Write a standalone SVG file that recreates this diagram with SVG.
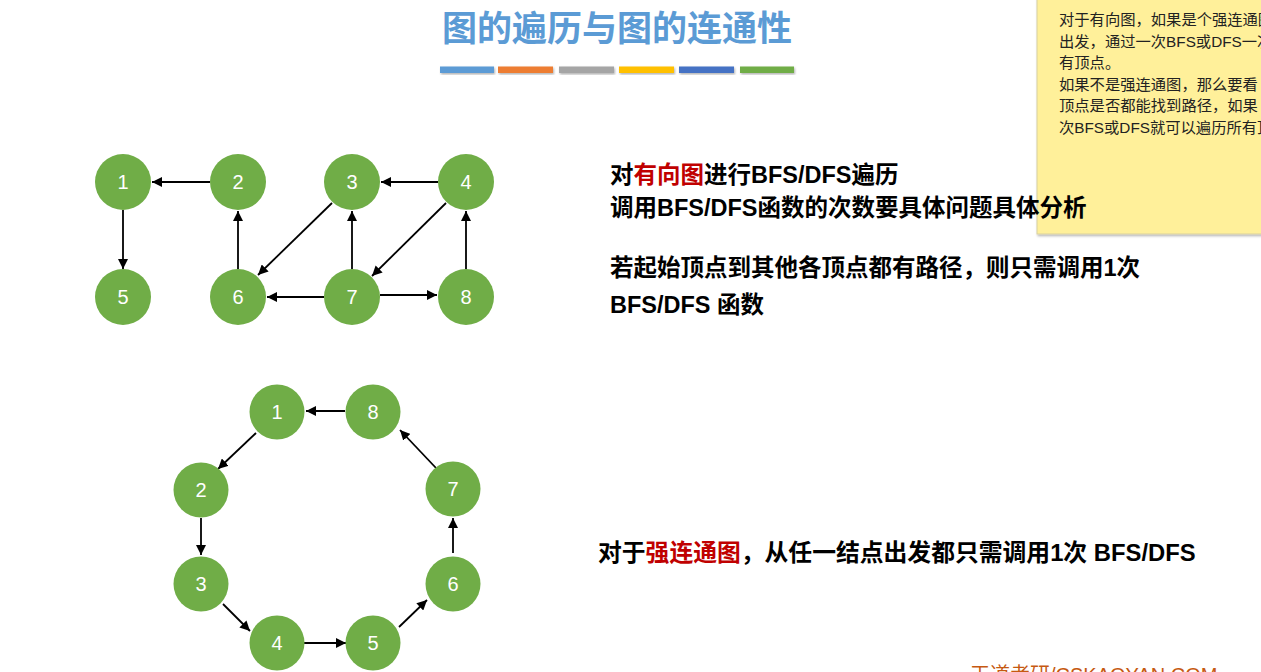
<svg xmlns="http://www.w3.org/2000/svg" width="1261" height="672" viewBox="0 0 1261 672">
<defs>
<marker id="ah" viewBox="0 0 10 10" refX="10" refY="5" markerWidth="10" markerHeight="10" markerUnits="userSpaceOnUse" orient="auto">
<path d="M0,0 L10,5 L0,10 z" fill="#000"/>
</marker>
<filter id="sh" x="-10%" y="-10%" width="130%" height="130%">
<feDropShadow dx="1" dy="1.5" stdDeviation="1" flood-color="#000" flood-opacity="0.3"/>
</filter>
</defs>
<style>
.n circle{fill:#70ad47;}
.n text{fill:#fff;font-family:"Liberation Sans",Arial,sans-serif;font-size:20px;text-anchor:middle;}
.e line{stroke:#000;stroke-width:1.8;marker-end:url(#ah);}
.t{font-family:"Liberation Sans","Noto Sans CJK SC",sans-serif;font-weight:bold;font-size:23.5px;fill:#000;}
.r{fill:#c00000;}
.note{font-family:"Liberation Sans","Noto Sans CJK SC",sans-serif;font-size:15.3px;fill:#222;}
</style>
<rect width="1261" height="672" fill="#fff"/>

<g id="title">
<text x="617" y="41" text-anchor="middle" font-family="'Liberation Sans','Noto Sans CJK SC',sans-serif" font-weight="bold" font-size="35" fill="#5b9bd5">图的遍历与图的连通性</text>
<g filter="url(#sh)">
<rect x="440" y="66.5" width="54" height="6.5" fill="#5b9bd5"/>
<rect x="498" y="66.5" width="55" height="6.5" fill="#ed7d31"/>
<rect x="559" y="66.5" width="55" height="6.5" fill="#a5a5a5"/>
<rect x="619" y="66.5" width="55" height="6.5" fill="#ffc000"/>
<rect x="679" y="66.5" width="55" height="6.5" fill="#4472c4"/>
<rect x="740" y="66.5" width="54" height="6.5" fill="#70ad47"/>
</g>
</g>

<g id="note">
<rect x="1037" y="-10" width="240" height="244" fill="#fff09a" stroke="#d8d0a0" stroke-width="1" filter="url(#sh)"/>
<text class="note" x="1059" y="25">对于有向图，如果是个强连通图</text>
<text class="note" x="1059" y="47">出发，通过一次BFS或DFS一次</text>
<text class="note" x="1059" y="68">有顶点。</text>
<text class="note" x="1059" y="90">如果不是强连通图，那么要看</text>
<text class="note" x="1059" y="111">顶点是否都能找到路径，如果</text>
<text class="note" x="1059" y="133">次BFS或DFS就可以遍历所有顶</text>
</g>

<g id="text-right">
<text class="t" x="610" y="183">对<tspan class="r">有向图</tspan>进行BFS/DFS遍历</text>
<text class="t" x="610" y="216">调用BFS/DFS函数的次数要具体问题具体分析</text>
<text class="t" x="610" y="276">若起始顶点到其他各顶点都有路径，则只需调用1次</text>
<text class="t" x="610" y="313">BFS/DFS 函数</text>
<text class="t" x="598" y="561" style="font-size:23.8px">对于<tspan class="r">强连通图</tspan>，从任一结点出发都只需调用1次 BFS/DFS</text>
</g>

<g id="connectors">
<g class="e">
<line x1="210" y1="182" x2="152" y2="182"/>
<line x1="123" y1="210" x2="123" y2="269"/>
<line x1="238" y1="269" x2="238" y2="211"/>
<line x1="332" y1="203" x2="258" y2="275"/>
<line x1="438" y1="182" x2="381" y2="182"/>
<line x1="446" y1="203" x2="372" y2="276"/>
<line x1="352" y1="269" x2="352" y2="211"/>
<line x1="324" y1="297" x2="267" y2="297"/>
<line x1="380" y1="295" x2="437" y2="295"/>
<line x1="466" y1="269" x2="466" y2="211"/>

<line x1="345" y1="411" x2="306" y2="411"/>
<line x1="256" y1="433" x2="218" y2="469"/>
<line x1="201" y1="518" x2="201" y2="555"/>
<line x1="223" y1="604" x2="250" y2="631"/>
<line x1="303" y1="643" x2="346" y2="643"/>
<line x1="399" y1="627" x2="427" y2="600"/>
<line x1="453" y1="553" x2="453" y2="518"/>
<line x1="436" y1="468" x2="400" y2="430"/>
</g>
</g>

<g id="g1n1" class="n"><circle cx="123" cy="182" r="28"/><text x="123" y="189">1</text></g>
<g id="g1n2" class="n"><circle cx="238" cy="182" r="28"/><text x="238" y="189">2</text></g>
<g id="g1n3" class="n"><circle cx="352" cy="182" r="28"/><text x="352" y="189">3</text></g>
<g id="g1n4" class="n"><circle cx="466" cy="182" r="28"/><text x="466" y="189">4</text></g>
<g id="g1n5" class="n"><circle cx="123" cy="297" r="28"/><text x="123" y="304">5</text></g>
<g id="g1n6" class="n"><circle cx="238" cy="297" r="28"/><text x="238" y="304">6</text></g>
<g id="g1n7" class="n"><circle cx="352" cy="297" r="28"/><text x="352" y="304">7</text></g>
<g id="g1n8" class="n"><circle cx="466" cy="297" r="28"/><text x="466" y="304">8</text></g>

<g id="g2n1" class="n"><circle cx="277" cy="412" r="27.5"/><text x="277" y="419">1</text></g>
<g id="g2n8" class="n"><circle cx="373" cy="412" r="27.5"/><text x="373" y="419">8</text></g>
<g id="g2n2" class="n"><circle cx="201" cy="490" r="27.5"/><text x="201" y="497">2</text></g>
<g id="g2n7" class="n"><circle cx="453" cy="489" r="27.5"/><text x="453" y="496">7</text></g>
<g id="g2n3" class="n"><circle cx="201" cy="584" r="27.5"/><text x="201" y="591">3</text></g>
<g id="g2n6" class="n"><circle cx="453" cy="584" r="27.5"/><text x="453" y="591">6</text></g>
<g id="g2n4" class="n"><circle cx="277" cy="643" r="27.5"/><text x="277" y="650">4</text></g>
<g id="g2n5" class="n"><circle cx="373" cy="643" r="27.5"/><text x="373" y="650">5</text></g>

<g id="watermark">
<text x="970" y="682" font-family="'Liberation Sans','Noto Sans CJK SC',sans-serif" font-size="20" fill="#c65911">王道考研/CSKAOYAN.COM</text>
</g>
</svg>
